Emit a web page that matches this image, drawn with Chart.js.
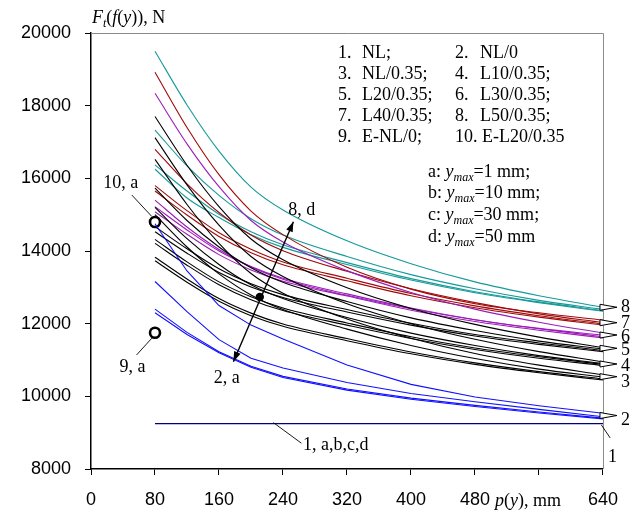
<!DOCTYPE html>
<html>
<head>
<meta charset="utf-8">
<script src="https://cdn.jsdelivr.net/npm/chart.js@4"></script>
<style>
  body { margin: 0; background: #fff; }
  #wrap { width: 632px; height: 513px; }
</style>
</head>
<body>
<div id="wrap"><canvas id="forceChart" width="632" height="513"></canvas></div>
<script>
// p(y), mm - points where each curve is read
const pValues = [80, 120, 160, 200, 240, 320, 400, 480, 560, 640];

// 1. NL (a,b,c,d coincide)
const s1 = [9250, 9250, 9250, 9250, 9250, 9250, 9250, 9250, 9250, 9250];
// 2. NL/0
const s2a = [12300, 11700, 11200, 10800, 10520, 10170, 9920, 9720, 9540, 9380];
const s2b = [12400, 11760, 11230, 10830, 10550, 10200, 9950, 9750, 9570, 9400];
const s2c = [13160, 12330, 11560, 11050, 10780, 10380, 10080, 9850, 9640, 9440];
const s2d = [14750, 13450, 12500, 11960, 11580, 10860, 10330, 9980, 9740, 9535];
// 3. NL/0.35
const s3a = [13730, 13140, 12620, 12220, 11930, 11530, 11170, 10880, 10650, 10450];
const s3b = [13830, 13230, 12690, 12290, 11990, 11590, 11220, 10920, 10680, 10480];
const s3c = [15000, 14110, 13370, 12790, 12390, 11850, 11400, 11040, 10750, 10530];
const s3d = [16520, 15280, 14210, 13380, 12840, 12130, 11600, 11180, 10860, 10590];
// 4. L10/0.35
const s4a = [14210, 13610, 13070, 12660, 12360, 11960, 11590, 11290, 11050, 10850];
const s4b = [14320, 13700, 13150, 12740, 12430, 12020, 11640, 11330, 11090, 10880];
const s4c = [15200, 14340, 13630, 13070, 12690, 12170, 11740, 11400, 11120, 10900];
const s4d = [17120, 15820, 14710, 13850, 13300, 12550, 12000, 11570, 11230, 10950];
// 5. L20/0.35
const s5a = [14530, 13940, 13410, 13010, 12720, 12320, 11960, 11660, 11430, 11230];
const s5b = [14670, 14060, 13510, 13100, 12800, 12390, 12010, 11700, 11470, 11260];
const s5c = [15730, 14840, 14110, 13540, 13140, 12610, 12160, 11810, 11520, 11300];
const s5d = [17700, 16360, 15220, 14330, 13760, 12990, 12420, 11980, 11630, 11340];
// 6. L30/0.35
const s6a = [15080, 14460, 13900, 13480, 13170, 12760, 12370, 12060, 11820, 11610];
const s6b = [15220, 14580, 14000, 13570, 13250, 12820, 12430, 12110, 11860, 11640];
const s6c = [15400, 14660, 14040, 13560, 13220, 12780, 12410, 12110, 11870, 11680];
const s6d = [18340, 16950, 15770, 14840, 14250, 13460, 12860, 12400, 12040, 11740];
// 7. L40/0.35
const s7a = [15650, 14990, 14400, 13950, 13620, 13180, 12770, 12440, 12180, 11960];
const s7b = [15800, 15110, 14500, 14050, 13700, 13250, 12830, 12490, 12220, 11990];
const s7c = [16800, 15850, 15060, 14440, 14010, 13440, 12960, 12580, 12270, 12030];
const s7d = [18920, 17400, 16100, 15100, 14450, 13550, 12950, 12550, 12300, 12100];
// 8. L50/0.35
const s8a = [16250, 15460, 14920, 14450, 14100, 13630, 13200, 12850, 12580, 12340];
const s8b = [16370, 15650, 15010, 14530, 14170, 13680, 13240, 12880, 12600, 12360];
const s8c = [17330, 16340, 15530, 14890, 14440, 13850, 13350, 12960, 12640, 12390];
const s8d = [19500, 18020, 16750, 15760, 15130, 14280, 13650, 13150, 12770, 12450];
// 9. E-NL/0 and 10. E-L20/0.35 (y_max = 1 mm)
const expP = [80];
const exp9 = [11750];
const exp10 = [14800];

// axis ticks (560 has a tick mark but no label)
const xTickLabels = ['0', '80', '160', '240', '320', '400', '480', '', '640'];

// legend texts
const legendLeft = [['1.', 'NL;'], ['3.', 'NL/0.35;'], ['5.', 'L20/0.35;'], ['7.', 'L40/0.35;'], ['9.', 'E-NL/0;']];
const legendRight = [['2.', 'NL/0'], ['4.', 'L10/0.35;'], ['6.', 'L30/0.35;'], ['8.', 'L50/0.35;'], ['10.', 'E-L20/0.35']];
const ymaxLabels = [['a:', '=1 mm;'], ['b:', '=10 mm;'], ['c:', '=30 mm;'], ['d:', '=50 mm']];

// right end markers (group number, value of the marker, value of label baseline)
const endGroups = ['2', '3', '4', '5', '6', '7', '8'];
const endMarks = [9472, 10541, 10890, 11322, 11688, 12027, 12451];
const endText = [9212, 10266, 10706, 11139, 11505, 11882, 12330];

const teal = '#17999a';
const red = '#a00a0a';
const purple = '#9c1cb8';
const blue = '#1010ff';
const navy = '#000080';

const serif = '"Liberation Serif", "Times New Roman", serif';

function curve(values, color, straight) {
    return {
        data: pValues.map((p, i) => ({ x: p, y: values[i] })),
        borderColor: color,
        borderWidth: 1.1,
        pointRadius: 0,
        fill: false,
        tension: 0,
        cubicInterpolationMode: straight ? 'default' : 'monotone'
    };
}

const datasets = [
    curve(s1, navy, true),
    curve(s2a, blue, true), curve(s2b, blue, true), curve(s2c, blue, true), curve(s2d, blue, true),
    curve(s3a, '#000'), curve(s3b, '#000'), curve(s3c, '#000'), curve(s3d, '#000'),
    curve(s4a, '#000'), curve(s4b, '#000'), curve(s4c, '#000'), curve(s4d, '#000'),
    curve(s5a, '#000'), curve(s5b, '#000'), curve(s5c, '#000'), curve(s5d, '#000'),
    curve(s6a, purple), curve(s6b, purple), curve(s6c, purple), curve(s6d, purple),
    curve(s7a, red), curve(s7b, red), curve(s7c, red), curve(s7d, red),
    curve(s8a, teal), curve(s8b, teal), curve(s8c, teal), curve(s8d, teal),
    {
        data: expP.map((p, i) => ({ x: p, y: exp9[i] })).concat(expP.map((p, i) => ({ x: p, y: exp10[i] }))),
        showLine: false,
        pointRadius: 5,
        pointBorderWidth: 2.6,
        pointBorderColor: '#000',
        pointBackgroundColor: '#fff'
    }
];

// rich text: parts drawn one after another (italic / subscript)
function rich(ctx, x, y, parts, align) {
    const fontOf = p => (p.i ? 'italic ' : '') + (p.s ? '12px ' : '18px ') + serif;
    let w = 0;
    parts.forEach(p => { ctx.font = fontOf(p); w += ctx.measureText(p.t).width; });
    let cx = align === 'center' ? x - w / 2 : x;
    ctx.textAlign = 'left';
    ctx.textBaseline = 'alphabetic';
    parts.forEach(p => {
        ctx.font = fontOf(p);
        ctx.fillText(p.t, cx, y + (p.s ? 4 : 0));
        cx += ctx.measureText(p.t).width;
    });
}

function arrowHead(ctx, x0, y0, x1, y1) {
    const a = Math.atan2(y1 - y0, x1 - x0);
    const len = 10, half = 3.5;
    ctx.beginPath();
    ctx.moveTo(x1, y1);
    ctx.lineTo(x1 - len * Math.cos(a) + half * Math.sin(a), y1 - len * Math.sin(a) - half * Math.cos(a));
    ctx.lineTo(x1 - len * Math.cos(a) - half * Math.sin(a), y1 - len * Math.sin(a) + half * Math.cos(a));
    ctx.closePath();
    ctx.fill();
}

const annotations = {
    id: 'annotations',
    afterDraw(chart) {
        const ctx = chart.ctx;
        const xs = chart.scales.x, ys = chart.scales.y;
        const X = v => xs.getPixelForValue(v), Y = v => ys.getPixelForValue(v);
        const area = chart.chartArea;
        ctx.save();

        // frame on top and right
        ctx.strokeStyle = '#8a8a8a';
        ctx.lineWidth = 1;
        ctx.beginPath();
        ctx.moveTo(area.left, area.top + 0.5);
        ctx.lineTo(area.right + 0.5, area.top + 0.5);
        ctx.lineTo(area.right + 0.5, area.bottom);
        ctx.stroke();

        ctx.fillStyle = '#000';
        ctx.strokeStyle = '#000';

        // axis titles
        rich(ctx, area.left + 1, 23, [
            { t: 'F', i: true }, { t: 't', i: true, s: true }, { t: '(' }, { t: 'f', i: true },
            { t: '(' }, { t: 'y', i: true }, { t: ')), N' }
        ]);
        rich(ctx, 495, 506, [{ t: 'p', i: true }, { t: '(' }, { t: 'y', i: true }, { t: '), mm' }]);

        // legend block
        legendLeft.forEach((r, i) => {
            const by = 58.3 + i * 20.85;
            rich(ctx, 338, by, [{ t: r[0] }]);
            rich(ctx, 362, by, [{ t: r[1] }]);
        });
        legendRight.forEach((r, i) => {
            const by = 58.3 + i * 20.85;
            if (r[0] === '10.') {
                rich(ctx, 455, by, [{ t: r[0] + ' ' + r[1] }]);
            } else {
                rich(ctx, 455, by, [{ t: r[0] }]);
                rich(ctx, 480, by, [{ t: r[1] }]);
            }
        });
        ymaxLabels.forEach((r, i) => {
            rich(ctx, 428, 176.7 + i * 21.7, [
                { t: r[0] + ' ' }, { t: 'y', i: true }, { t: 'max', i: true, s: true }, { t: r[1] }
            ]);
        });

        // arrow from 2,a to 8,d with the middle dot
        const ax0 = X(178), ay0 = Y(10954), ax1 = X(253), ay1 = Y(14807);
        ctx.lineWidth = 1.4;
        ctx.beginPath();
        ctx.moveTo(ax0, ay0);
        ctx.lineTo(ax1, ay1);
        ctx.stroke();
        arrowHead(ctx, ax0, ay0, ax1, ay1);
        arrowHead(ctx, ax1, ay1, ax0, ay0);
        ctx.beginPath();
        ctx.arc(X(211), Y(12735), 4.2, 0, Math.PI * 2);
        ctx.fill();

        // leader lines
        ctx.lineWidth = 0.9;
        [[[51, 15540], [76, 14950]], [[76, 11600], [57, 11140]], [[228, 9276], [263, 8710]], [[638, 9213], [649, 8855]]]
            .forEach(l => {
                ctx.beginPath();
                ctx.moveTo(X(l[0][0]), Y(l[0][1]));
                ctx.lineTo(X(l[1][0]), Y(l[1][1]));
                ctx.stroke();
            });

        // curve labels
        rich(ctx, X(37.3), Y(15726), [{ t: '10, a' }], 'center');
        rich(ctx, X(51.9), Y(10679), [{ t: '9, a' }], 'center');
        rich(ctx, X(263.4), Y(14991), [{ t: '8, d' }], 'center');
        rich(ctx, X(169.6), Y(10368), [{ t: '2, a' }], 'center');
        rich(ctx, X(265), Y(8524), [{ t: '1, a,b,c,d' }]);

        // end markers at p = 640
        const xe = X(640);
        ctx.lineWidth = 1;
        endMarks.forEach((v, i) => {
            const y = Y(v);
            ctx.beginPath();
            ctx.moveTo(xe - 3, y - 3);
            ctx.lineTo(xe + 14, y);
            ctx.lineTo(xe - 3, y + 3);
            ctx.closePath();
            ctx.fillStyle = '#fff';
            ctx.fill();
            ctx.stroke();
            ctx.fillStyle = '#000';
            rich(ctx, xe + 18, Y(endText[i]), [{ t: endGroups[i] }]);
        });
        rich(ctx, xe + 5, Y(8200), [{ t: '1' }]);

        ctx.restore();
    }
};

new Chart(document.getElementById('forceChart'), {
    type: 'line',
    data: { datasets: datasets },
    options: {
        responsive: false,
        animation: false,
        events: [],
        layout: { padding: { top: 33, right: 29, left: 0, bottom: 0 } },
        plugins: {
            legend: { display: false },
            tooltip: { enabled: false }
        },
        scales: {
            x: {
                type: 'linear',
                min: 0,
                max: 640,
                ticks: {
                    stepSize: 80,
                    color: '#000',
                    padding: 14,
                    maxRotation: 0,
                    autoSkip: false,
                    font: { family: '"Liberation Sans", Arial, sans-serif', size: 18 },
                    callback: (value, index) => xTickLabels[index]
                },
                grid: { drawOnChartArea: false, tickLength: 6, color: '#000' },
                border: { color: '#000', width: 1.5 },
                afterFit: s => { s.height = 44; }
            },
            y: {
                min: 8000,
                max: 20000,
                ticks: {
                    stepSize: 2000,
                    color: '#000',
                    padding: 14,
                    font: { family: '"Liberation Sans", Arial, sans-serif', size: 18 },
                    callback: value => String(value)
                },
                grid: { drawOnChartArea: false, tickLength: 6, color: '#000' },
                border: { color: '#000', width: 1.5 },
                afterFit: s => { s.width = 91; }
            }
        }
    },
    plugins: [annotations]
});
</script>
</body>
</html>
